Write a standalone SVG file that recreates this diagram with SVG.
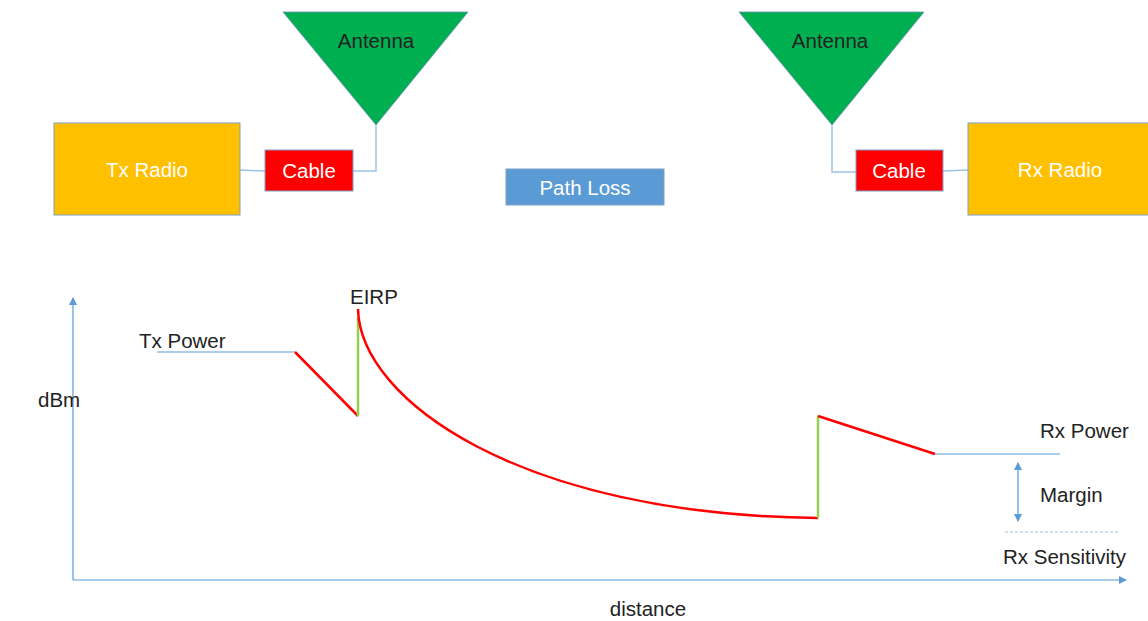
<svg xmlns="http://www.w3.org/2000/svg" width="1148" height="621" viewBox="0 0 1148 621">
<style>
text{font-family:"Liberation Sans",Arial,sans-serif;font-size:20.5px;fill:#222}
.w{fill:#fff}
.c{text-anchor:middle}
.radio{fill:#FFC000;stroke:#7f9fc4;stroke-width:1}
.cable{fill:#FF0000;stroke:#7f9fc4;stroke-width:1}
.ant{fill:#00B050;stroke:#6d8fb8;stroke-width:0.8}
.conn{fill:none;stroke:#9dc3e6;stroke-width:1.5}
.axis{fill:none;stroke:#5B9BD5;stroke-width:1.2}
.red{fill:none;stroke:#FF0000;stroke-width:2.5}
.grn{fill:none;stroke:#92D050;stroke-width:2.5}
</style>
<defs>
<marker id="ah" markerWidth="8" markerHeight="8" refX="7" refY="4" orient="auto" markerUnits="userSpaceOnUse">
<path d="M0,0 L8,4 L0,8 z" fill="#5B9BD5"/>
</marker>
<marker id="ahs" markerWidth="8" markerHeight="8" refX="1" refY="4" orient="auto" markerUnits="userSpaceOnUse">
<path d="M8,0 L0,4 L8,8 z" fill="#5B9BD5"/>
</marker>
</defs>
<rect width="1148" height="621" fill="#fff"/>

<g id="connectors">
<path class="conn" d="M240,170 L265,171"/>
<path class="conn" d="M353,171 L376,171 L376,125"/>
<path class="conn" d="M832,125 L832,172 L856,172"/>
<path class="conn" d="M943,171 L968,170"/>
</g>

<g id="tx-radio"><rect class="radio" x="54" y="123" width="186" height="92"/><text class="w c" x="147" y="177">Tx Radio</text></g>
<g id="tx-cable"><rect class="cable" x="265" y="150" width="88" height="41"/><text class="w c" x="309" y="178">Cable</text></g>
<g id="tx-antenna"><polygon class="ant" points="283,12 468,12 376,125"/><text class="c" x="376" y="48">Antenna</text></g>
<g id="path-loss"><rect x="506" y="169" width="158" height="36" fill="#5B9BD5" stroke="#7f9fc4"/><text class="w c" x="585" y="195">Path Loss</text></g>
<g id="rx-antenna"><polygon class="ant" points="739,12 924,12 832,125"/><text class="c" x="830" y="48">Antenna</text></g>
<g id="rx-cable"><rect class="cable" x="856" y="150" width="87" height="41"/><text class="w c" x="899" y="178">Cable</text></g>
<g id="rx-radio"><rect class="radio" x="968" y="123" width="182" height="92"/><text class="w c" x="1060" y="177">Rx Radio</text></g>

<g id="chart">
<path class="axis" d="M73,580 L73,298" marker-end="url(#ah)"/>
<path class="axis" d="M73,580 L1126,580" marker-end="url(#ah)"/>
<path class="axis" d="M157,352 L295,352"/>
<path class="red" d="M295,352 L358,416"/>
<path class="grn" d="M358,416 L358,318"/>
<path class="red" d="M358,309 C360,400 520,515 818,518"/>
<path class="grn" d="M818,518 L818,416"/>
<path class="red" d="M818,416 L935,454"/>
<path class="axis" d="M935,454 L1060,454"/>
<path class="axis" d="M1018,463 L1018,521" marker-start="url(#ahs)" marker-end="url(#ah)"/>
<path d="M1005,532 L1118,532" stroke="#9dc3e6" stroke-width="1.2" stroke-dasharray="3,2"/>
<text x="139" y="348">Tx Power</text>
<text x="350" y="304">EIRP</text>
<text x="38" y="407">dBm</text>
<text x="1040" y="438">Rx Power</text>
<text x="1040" y="502">Margin</text>
<text x="1003" y="564">Rx Sensitivity</text>
<text class="c" x="648" y="616">distance</text>
</g>
</svg>
